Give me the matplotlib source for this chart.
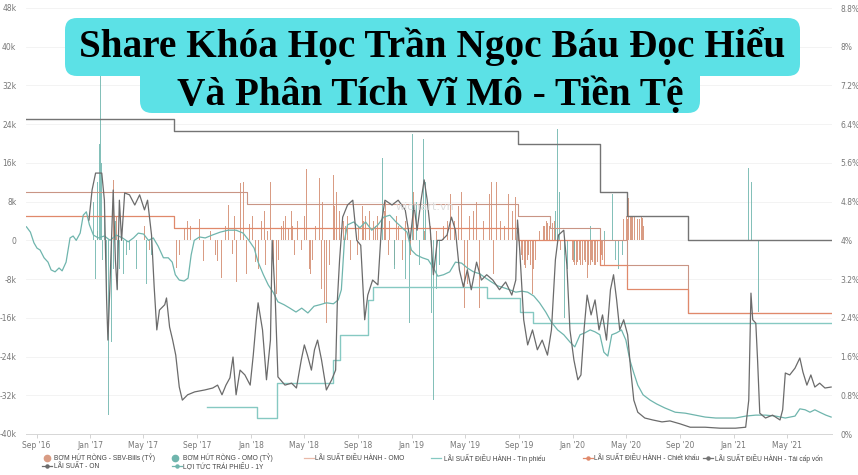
import matplotlib
matplotlib.use("Agg")
import matplotlib.pyplot as plt
import matplotlib.dates as mdates
from matplotlib.patches import FancyBboxPatch
from matplotlib.lines import Line2D
import pandas as pd

# ---------------- data ----------------
# LÃI SUẤT - ON (%)
on_dates = ["2016-12-29", "2017-01-05", "2017-01-13", "2017-01-27", "2017-02-02", "2017-02-07", "2017-02-10",
            "2017-02-15", "2017-02-22", "2017-02-27", "2017-03-03", "2017-03-08", "2017-03-13", "2017-03-20",
            "2017-03-31", "2017-04-12", "2017-04-23", "2017-05-04", "2017-05-11", "2017-05-20", "2017-05-26",
            "2017-06-01", "2017-06-07", "2017-06-19", "2017-06-23", "2017-06-30", "2017-07-07", "2017-07-14",
            "2017-07-22", "2017-07-29", "2017-08-10", "2017-08-26", "2017-09-18", "2017-10-06", "2017-10-17",
            "2017-10-27", "2017-11-05", "2017-11-14", "2017-11-21", "2017-11-28", "2017-12-07", "2017-12-18",
            "2017-12-30", "2018-01-06", "2018-01-13", "2018-01-17", "2018-01-27", "2018-02-05", "2018-02-14",
            "2018-02-18", "2018-02-25", "2018-03-03", "2018-03-19", "2018-04-03", "2018-04-14", "2018-04-25",
            "2018-05-02", "2018-05-09", "2018-05-18", "2018-05-25", "2018-06-01", "2018-06-10", "2018-06-21",
            "2018-07-03", "2018-07-12", "2018-07-16", "2018-07-21", "2018-07-28", "2018-08-08", "2018-08-20",
            "2018-08-29", "2018-09-07", "2018-09-16", "2018-09-23", "2018-10-04", "2018-10-16", "2018-10-25",
            "2018-11-01", "2018-11-17", "2018-12-01", "2018-12-17", "2018-12-28", "2019-01-06", "2019-01-13",
            "2019-01-22", "2019-01-29", "2019-02-05", "2019-02-12", "2019-02-19", "2019-02-28", "2019-03-10",
            "2019-03-22", "2019-04-01", "2019-04-10", "2019-04-19", "2019-04-28", "2019-05-07", "2019-05-16",
            "2019-05-28", "2019-06-08", "2019-06-20", "2019-07-04", "2019-07-19", "2019-08-02", "2019-08-16",
            "2019-08-25", "2019-08-29", "2019-09-03", "2019-09-12", "2019-09-21", "2019-10-02", "2019-10-13",
            "2019-10-24", "2019-11-05", "2019-11-14", "2019-11-23", "2019-11-30", "2019-12-12", "2019-12-19",
            "2019-12-26", "2020-01-04", "2020-01-13", "2020-01-20", "2020-01-27", "2020-02-03", "2020-02-12",
            "2020-02-21", "2020-03-01", "2020-03-09", "2020-03-18", "2020-03-27", "2020-04-03", "2020-04-10",
            "2020-04-17", "2020-04-26", "2020-05-05", "2020-05-12", "2020-05-19", "2020-05-28", "2020-06-13",
            "2020-07-01", "2020-07-22", "2020-08-09", "2020-09-01", "2020-09-24", "2020-10-28", "2020-12-01",
            "2021-01-05", "2021-01-28", "2021-02-04", "2021-02-09", "2021-02-13", "2021-02-20", "2021-02-24",
            "2021-03-01", "2021-03-14", "2021-03-30", "2021-04-16", "2021-04-22", "2021-04-28", "2021-05-08",
            "2021-05-20", "2021-05-31", "2021-06-07", "2021-06-16", "2021-06-25", "2021-07-04", "2021-07-15",
            "2021-07-27", "2021-08-10"]
on_rate = [4.42, 5.04, 5.39, 5.39, 4.83, 2.77, 1.94,
           3.18, 5.04, 3.6, 2.98, 4.83, 4.0, 4.98,
           4.94, 4.73, 4.94, 4.63, 4.83, 4.11, 3.04,
           2.15, 2.56, 2.67, 2.81, 2.21, 1.94, 1.63,
           0.97, 0.70, 0.81, 0.87, 0.91, 0.95, 1.01,
           0.81, 1.01, 1.16, 1.59, 0.81, 1.32, 1.22,
           1.01, 1.63, 2.36, 2.71, 2.15, 1.12, 1.94,
           4.0, 2.77, 1.18, 1.01, 1.05, 0.95, 1.53,
           1.84, 1.63, 1.32, 1.74, 1.94, 1.53, 0.91,
           1.12, 1.32, 2.77, 3.6, 4.48, 4.73, 4.83,
           4.0, 3.9, 2.36, 2.87, 3.18, 3.08, 4.42,
           4.83, 4.73, 4.83, 4.63, 4.0, 4.73, 4.21,
           4.83, 5.25, 4.83, 4.21, 3.29, 4.0, 4.0,
           4.11, 4.48, 4.21, 3.39, 3.04, 3.39, 2.98,
           3.55, 3.18, 3.29, 3.18, 2.98, 3.14, 2.87,
           3.18, 4.42, 3.8, 2.36, 1.84, 2.15, 1.74,
           1.94, 1.63, 2.15, 3.6, 4.11, 4.21, 3.49,
           2.15, 1.53, 1.12, 1.22, 2.15, 2.87, 2.46,
           2.77, 2.15, 2.46, 1.94, 2.98, 3.29, 2.77,
           2.15, 2.36, 2.05, 1.32, 0.70, 0.45, 0.33,
           0.29, 0.25, 0.27, 0.21, 0.14, 0.14, 0.12,
           0.12, 0.14, 0.70, 2.91, 2.36, 2.29, 1.53,
           0.43, 0.33, 0.39, 0.29, 0.50, 1.26, 1.22,
           1.36, 1.57, 1.28, 1.01, 1.22, 0.97, 1.05,
           0.95, 0.97]

# LỢI TỨC TRÁI PHIẾU - 1Y (%)
y1_dates = ["2016-08-09", "2016-08-18", "2016-08-26", "2016-09-02", "2016-09-09", "2016-09-18", "2016-09-27",
            "2016-10-04", "2016-10-13", "2016-10-22", "2016-10-29", "2016-11-07", "2016-11-16", "2016-11-23",
            "2016-11-30", "2016-12-09", "2016-12-16", "2016-12-23", "2016-12-30", "2017-01-08", "2017-01-19",
            "2017-02-02", "2017-02-15", "2017-03-01", "2017-03-15", "2017-03-28", "2017-04-09", "2017-04-20",
            "2017-05-02", "2017-05-13", "2017-05-24", "2017-06-04", "2017-06-16", "2017-06-27", "2017-07-06",
            "2017-07-13", "2017-07-22", "2017-08-02", "2017-08-11", "2017-08-18", "2017-08-25", "2017-09-06",
            "2017-09-19", "2017-10-05", "2017-10-23", "2017-11-10", "2017-11-28", "2017-12-14", "2017-12-27",
            "2018-01-08", "2018-01-17", "2018-01-29", "2018-02-09", "2018-02-20", "2018-03-03", "2018-03-17",
            "2018-03-30", "2018-04-13", "2018-04-26", "2018-05-10", "2018-05-24", "2018-06-06", "2018-06-21",
            "2018-07-07", "2018-07-18", "2018-07-25", "2018-08-01", "2018-08-08", "2018-08-22", "2018-09-05",
            "2018-09-18", "2018-10-02", "2018-10-16", "2018-10-29", "2018-11-12", "2018-11-26", "2018-12-10",
            "2018-12-21", "2018-12-31", "2019-01-11", "2019-01-25", "2019-02-07", "2019-02-19", "2019-03-01",
            "2019-03-14", "2019-03-28", "2019-04-10", "2019-04-24", "2019-05-07", "2019-05-21", "2019-06-04",
            "2019-06-18", "2019-07-01", "2019-07-15", "2019-07-29", "2019-08-11", "2019-08-25", "2019-09-08",
            "2019-09-21", "2019-10-05", "2019-10-18", "2019-11-01", "2019-11-14", "2019-11-28", "2019-12-12",
            "2019-12-26", "2020-01-06", "2020-01-18", "2020-01-29", "2020-02-10", "2020-02-21", "2020-03-03",
            "2020-03-12", "2020-03-21", "2020-03-30", "2020-04-10", "2020-04-21", "2020-05-01", "2020-05-10",
            "2020-05-19", "2020-05-28", "2020-06-09", "2020-06-25", "2020-07-10", "2020-07-28", "2020-08-21",
            "2020-09-13", "2020-10-06", "2020-10-28", "2020-11-21", "2020-12-13", "2021-01-05", "2021-01-28",
            "2021-02-20", "2021-03-14", "2021-04-06", "2021-04-28", "2021-05-20", "2021-05-31", "2021-06-12",
            "2021-06-23", "2021-07-04", "2021-07-15", "2021-07-29", "2021-08-10"]
y1_rate = [4.28, 4.17, 3.95, 3.84, 3.8, 3.64, 3.55,
           3.39, 3.35, 3.43, 3.37, 3.55, 4.05, 4.09,
           4.0, 4.15, 4.52, 4.59, 4.32, 4.11, 4.05,
           4.09, 4.0, 4.11, 4.05, 3.97, 4.05, 4.15,
           4.13, 4.0, 4.05, 3.88, 3.64, 3.64, 3.55,
           3.29, 3.18, 3.16, 3.22, 3.7, 4.0, 4.07,
           4.05, 4.11, 4.17, 4.21, 4.21, 4.15, 4.0,
           3.84, 3.55, 3.29, 3.08, 2.93, 2.73, 2.67,
           2.6, 2.52, 2.6, 2.5, 2.64, 2.67, 2.71,
           2.69, 2.77, 2.98, 4.0, 4.32, 4.38, 4.26,
           4.38, 4.21, 4.32, 4.48, 4.52, 4.38, 4.26,
           4.17, 3.8, 3.7, 3.64, 3.6, 3.43, 3.26,
           3.29, 3.35, 3.55, 3.53, 3.43, 3.35, 3.31,
           3.22, 3.14, 3.06, 3.02, 2.98, 2.93, 2.95,
           2.93, 2.85, 2.71, 2.52, 2.31, 2.15, 2.05,
           1.9, 1.8, 2.05, 2.09, 2.15, 2.11, 2.05,
           1.69, 1.61, 2.05, 2.09, 2.15, 1.94, 1.53,
           1.26, 1.01, 0.81, 0.7, 0.62, 0.54, 0.45,
           0.43, 0.39, 0.35, 0.33, 0.33, 0.33, 0.37,
           0.39, 0.39, 0.37, 0.33, 0.37, 0.52, 0.5,
           0.45, 0.5, 0.45, 0.39, 0.35]

# LÃI SUẤT ĐIỀU HÀNH (%), step series: value holds from its date to the next
refi_dates = ["2016-08-08", "2017-07-11", "2019-08-30", "2020-03-03", "2020-05-03", "2020-09-19", "2021-08-12"]
refi_rate = [6.5, 6.25, 6.0, 5.0, 4.5, 4.0, 4.0]
disc_dates = ["2016-08-08", "2017-07-11", "2019-08-30", "2020-03-03", "2020-05-03", "2020-09-19", "2021-08-12"]
disc_rate = [4.5, 4.25, 4.0, 3.5, 3.0, 2.5, 2.5]
omo_dates = ["2016-08-08", "2017-12-23", "2019-08-30", "2019-11-10", "2020-03-03", "2020-05-03", "2020-09-19", "2021-08-12"]
omo_rate = [5.0, 4.75, 4.5, 4.25, 4.0, 3.5, 2.5, 2.5]
bill_dates = ["2017-09-23", "2018-01-15", "2018-03-01", "2018-07-05", "2018-07-21", "2018-09-23", "2018-10-04",
              "2019-06-20", "2019-09-03", "2019-10-02", "2021-08-12"]
bill_rate = [0.55, 0.33, 1.05, 1.53, 2.05, 2.77, 3.04, 2.8, 2.52, 2.3, 2.3]

# BƠM HÚT RÒNG - SBV-Bills (nghìn tỷ)
sbv_dates = ["2017-01-17", "2017-02-22", "2017-03-01", "2017-05-04", "2017-05-15", "2017-07-16", "2017-07-22",
             "2017-08-03", "2017-08-10", "2017-08-17", "2017-08-29", "2017-09-07", "2017-09-16", "2017-09-30",
             "2017-10-12", "2017-10-17", "2017-10-25", "2017-11-03", "2017-11-10", "2017-11-19", "2017-11-25",
             "2017-11-30", "2017-12-07", "2017-12-14", "2017-12-21", "2017-12-28", "2018-01-04", "2018-01-10",
             "2018-01-17", "2018-01-25", "2018-02-01", "2018-02-07", "2018-02-14", "2018-02-21", "2018-02-28",
             "2018-03-05", "2018-03-12", "2018-03-21", "2018-03-28", "2018-04-03", "2018-04-10", "2018-04-17",
             "2018-04-25", "2018-05-02", "2018-05-07", "2018-05-14", "2018-05-21", "2018-05-28", "2018-06-06",
             "2018-06-10", "2018-06-17", "2018-06-21", "2018-06-28", "2018-07-07", "2018-07-14", "2018-07-21",
             "2018-07-30", "2018-08-08", "2018-08-15", "2018-08-25", "2018-09-01", "2018-09-10", "2018-09-18",
             "2018-09-27", "2018-10-06", "2018-10-16", "2018-10-23", "2018-11-03", "2018-11-12", "2018-11-23",
             "2018-12-01", "2018-12-10", "2018-12-17", "2018-12-28", "2019-01-04", "2019-01-15", "2019-01-29",
             "2019-02-12", "2019-02-26", "2019-03-14", "2019-03-22", "2019-03-30", "2019-04-08", "2019-04-17",
             "2019-04-24", "2019-05-01", "2019-05-07", "2019-05-12", "2019-05-21", "2019-05-28", "2019-06-04",
             "2019-06-13", "2019-06-27", "2019-07-01", "2019-07-06", "2019-07-12", "2019-07-22", "2019-07-31",
             "2019-08-09", "2019-08-18", "2019-08-25", "2019-09-03", "2019-09-10", "2019-09-17", "2019-09-24",
             "2019-10-02", "2019-10-09", "2019-10-18", "2019-10-27", "2019-11-03", "2019-11-10", "2019-11-17",
             "2019-11-23", "2019-12-05", "2019-12-14", "2019-12-31", "2020-01-06", "2020-01-13", "2020-01-20",
             "2020-01-27", "2020-02-03", "2020-02-10", "2020-02-16", "2020-02-23", "2020-03-01", "2020-03-07",
             "2020-03-14", "2020-04-26", "2020-05-03", "2020-05-08", "2020-05-14", "2020-05-21", "2020-05-28",
             "2020-06-05", "2020-06-11"]
sbv_net = [2, 12.5, 5, 3, -2, -5.8, -3,
           2.5, 4, 3, -2, 4.5, -4.3, 2,
           -3, -4.3, -7.8, 3, 7.4, -2.9, 5,
           -8.5, 11.8, 12, -7, 3.3, 5, -4.5,
           -6, 4, 6, 2, 12, -6, -11,
           -4, 3, 5, 2.5, 6, -3, 4,
           -2, 5, 14.7, -6, -4, 3, 12.8,
           -10, -13, -17, -5, 13.6, 10, 6,
           4, 5, -4, -5, 3, 7, 5,
           6, 4, 5, 3, 8, 4, -5,
           3, -4, 4, -3, 10, 3, 2,
           3, 2, 3, 4, 9.5, 4, 7,
           10, -14, -9, 5, 6, 8, -14,
           4, 9.5, 12, -7, 12, 4, 3,
           9.5, 6, 9, -2, -4, -5.8, -3,
           -11, -4, 2, 3, 4, 3, 3.5,
           2.5, -2, -3, -4, -5, -4.5, -5,
           -4, -7.8, -5, -4.5, -5, -4, -3,
           -5, 4.5, 5, 8.7, 5, 4.8, 4.5,
           4.8, 3]

# extra SBV-Bills days in the dense stretches (2018, late 2019, early and mid 2020)
sbv_more_dates = ["2018-02-03", "2018-03-15", "2018-04-06", "2018-05-17", "2018-06-13", "2018-07-10", "2018-08-03",
                  "2018-08-30", "2018-09-14", "2018-10-10", "2018-10-30", "2018-11-08", "2018-11-28",
                  "2019-09-06", "2019-09-13", "2019-09-20", "2019-09-27", "2019-10-05", "2019-10-30", "2019-11-06",
                  "2019-11-13", "2019-11-20", "2020-01-03", "2020-01-09", "2020-01-16", "2020-01-23", "2020-01-30",
                  "2020-02-06", "2020-02-13", "2020-02-19", "2020-02-26", "2020-03-04", "2020-03-10", "2020-04-29",
                  "2020-05-05", "2020-05-11", "2020-05-17", "2020-05-24", "2020-05-31", "2020-06-08"]
sbv_more_net = [-5, 4, 3, -7, 8, 7, 3,
                -3, 4, 3, 6, -3, 5,
                -3, -5, -4, -5, -6, 3, 3.5,
                3, 4, -4.5, -5, -4, -5, -4.5,
                -5, -4, -5, -4.5, -5, -4, 5,
                4.5, 5, 4.8, 5, 4.5, 4.7]

# BƠM HÚT RÒNG - OMO (nghìn tỷ)
omo_net_dates = ["2016-12-27", "2017-01-08", "2017-01-13", "2017-01-17", "2017-01-22", "2017-01-24", "2017-01-26",
                 "2017-01-29", "2017-02-02", "2017-02-07", "2017-02-11", "2017-02-15", "2017-02-18", "2017-02-22",
                 "2017-02-27", "2017-03-03", "2017-03-08", "2017-03-17", "2017-03-24", "2017-03-31", "2017-04-16",
                 "2017-05-08", "2017-05-20", "2017-06-04", "2018-10-27", "2018-11-23", "2018-12-03", "2018-12-17",
                 "2018-12-26", "2019-01-02", "2019-01-11", "2019-01-18", "2019-01-27", "2019-02-01", "2019-02-07",
                 "2019-02-14", "2019-02-19", "2019-02-26", "2019-03-05", "2019-11-23", "2019-11-28", "2019-12-03",
                 "2019-12-08", "2019-12-14", "2019-12-21", "2020-01-06", "2020-02-10", "2020-03-03", "2020-03-14",
                 "2020-04-01", "2020-04-08", "2020-04-15", "2020-04-24", "2021-02-04", "2021-02-11", "2021-02-18",
                 "2021-02-26"]
omo_net = [34, 8, -8, 12, 20, 34, 16,
           -4, 5, -12, -36, -16, -21, -6,
           4, -10, -6, -7, -3, -2, -6,
           -9, -3, 2, 17, -6, 5, -8,
           -17, 22, 8, -5, 21, 12, -8,
           -15, -33, -10, -5, 6, 23, 10,
           -8, -16, -6, -4, 3, -3, 2,
           9.5, -4, -6, -3, 15, 12, -3,
           -14.7]

legend_labels = ["BƠM HÚT RÒNG - SBV-Bills (TỶ)", "BƠM HÚT RÒNG - OMO (TỶ)", "LÃI SUẤT ĐIỀU HÀNH - OMO",
                 "LÃI SUẤT ĐIỀU HÀNH - Tín phiếu", "LÃI SUẤT ĐIỀU HÀNH - Chiết khấu",
                 "LÃI SUẤT ĐIỀU HÀNH - Tái cấp vốn", "LÃI SUẤT - ON", "LỢI TỨC TRÁI PHIẾU - 1Y"]
title_lines = ["Share Khóa Học Trần Ngọc Báu Đọc Hiểu", "Và Phân Tích Vĩ Mô - Tiền Tệ"]

# ---------------- colours ----------------
c_salmon_bar = "#d99c84"
c_teal = "#6fb5ad"
c_gray = "#6b6b6b"
c_refi = "#747474"
c_disc = "#e0896b"
c_omo = "#c99585"
c_bill = "#86c9c2"

d = pd.to_datetime
fig = plt.figure(figsize=(8.58, 4.75), dpi=100)
W, H = 858, 475
ax = fig.add_axes([26 / W, 1 - 434 / H, (832 - 26) / W, (434 - 8) / H])
ax2 = ax.twinx()

ax.bar(d(sbv_dates), sbv_net, width=2.2, color=c_salmon_bar, linewidth=0, zorder=2)
ax.bar(d(sbv_more_dates), sbv_more_net, width=2.2, color=c_salmon_bar, linewidth=0, zorder=2)
ax.bar(d(omo_net_dates), omo_net, width=1.6, color=c_teal, linewidth=0, alpha=0.85, zorder=2)

ax2.step(d(omo_dates), omo_rate, where="post", color=c_omo, lw=0.8)
ax2.step(d(bill_dates), bill_rate, where="post", color=c_bill, lw=1.0)
ax2.step(d(disc_dates), disc_rate, where="post", color=c_disc, lw=0.9)
ax2.step(d(refi_dates), refi_rate, where="post", color=c_refi, lw=1.0)
ax2.plot(d(y1_dates), y1_rate, color=c_teal, lw=0.9)
ax2.plot(d(on_dates), on_rate, color=c_gray, lw=0.9)

xmin, xmax = d("2016-08-08"), d("2021-08-12")
for a in (ax, ax2):
    a.set_xlim(xmin, xmax)
    for s in a.spines.values():
        s.set_visible(False)
ax.spines["bottom"].set_visible(True)
ax.spines["bottom"].set_color("#d6d6d6")
ax.spines["bottom"].set_linewidth(0.7)

ax.set_ylim(-40, 48)
ax2.set_ylim(0, 8.8)
lticks = list(range(-40, 49, 8))
ax.set_yticks(lticks)
ax.set_yticklabels([("0" if v == 0 else f"{v}k") for v in lticks])
rticks = [round(i * 0.8, 1) for i in range(12)]
ax2.set_yticks(rticks)
ax2.set_yticklabels([f"{v:g}%" for v in rticks])
ax.grid(axis="y", color="#f1f1f1", lw=0.6, zorder=0)
ax.set_axisbelow(True)

ax.xaxis.set_major_locator(mdates.MonthLocator(bymonth=[1, 5, 9]))
ax.xaxis.set_major_formatter(mdates.DateFormatter("%b '%y"))
ax.tick_params(axis="x", labelsize=5.5, colors="#777777", length=3, width=0.6, pad=2, color="#cccccc")
ax.tick_params(axis="y", labelsize=5.5, colors="#777777", length=0, pad=7)
ax2.tick_params(axis="y", labelsize=5.5, colors="#777777", length=0, pad=6)

# watermark
fig.text(425 / W, 1 - 207 / H, "wichart.vn", fontsize=8, color="#dddddd", ha="center", va="center")

# legend drawn by hand in pixel positions
def px(x, y):
    return x / W, 1 - y / H

leg_font = dict(fontsize=4.8, color="#444444", va="center", family="Liberation Sans")
items = [
    (47, 458, "dot", c_salmon_bar, 54),
    (175, 458, "dot", c_teal, 183),
    (304, 458, "line", "#e9b9a8", 315),
    (431, 458, "line", c_bill, 444),
    (583, 458, "linem", c_disc, 594),
    (703, 458, "linem", c_refi, 715),
    (42, 466, "linem", c_gray, 54),
    (172, 466, "linem", c_teal, 183),
]
for (x, y, kind, col, tx), lab in zip(items, legend_labels):
    if kind == "dot":
        fig.add_artist(Line2D([px(x, y)[0]], [px(x, y)[1]], marker="o", ms=4.5, color=col, lw=0,
                              transform=fig.transFigure))
    else:
        x0, y0 = px(x, y)
        x1, _ = px(x + 10, y)
        fig.add_artist(Line2D([x0, x1], [y0, y0], color=col, lw=0.9, transform=fig.transFigure))
        if kind == "linem":
            fig.add_artist(Line2D([(x0 + x1) / 2], [y0], marker="o", ms=2.2, color=col, lw=0,
                                  transform=fig.transFigure))
    fig.text(*px(tx, y), lab, **leg_font)

# title overlay
box_col = "#5ce1e6"
fig.patches.append(FancyBboxPatch((0.65, 3.99), 7.35, 0.58, boxstyle="round,pad=0,rounding_size=0.12",
                                  transform=fig.dpi_scale_trans, facecolor=box_col, edgecolor="none", zorder=10))
fig.patches.append(FancyBboxPatch((1.40, 3.62), 5.60, 0.50, boxstyle="round,pad=0,rounding_size=0.12",
                                  transform=fig.dpi_scale_trans, facecolor=box_col, edgecolor="none", zorder=10))
t1 = fig.text(432 / W, 1 - 47 / H, title_lines[0], fontsize=26, fontweight="bold", family="Liberation Serif",
              ha="center", va="center", color="black", zorder=11)
t2 = fig.text(430 / W, 1 - 95 / H, title_lines[1], fontsize=26, fontweight="bold", family="Liberation Serif",
              ha="center", va="center", color="black", zorder=11)
fig.canvas.draw()
r = fig.canvas.get_renderer()
scale = 707 / t1.get_window_extent(r).width
t1.set_fontsize(26 * scale)
t2.set_fontsize(26 * scale)

fig.savefig("out.png", dpi=100)
